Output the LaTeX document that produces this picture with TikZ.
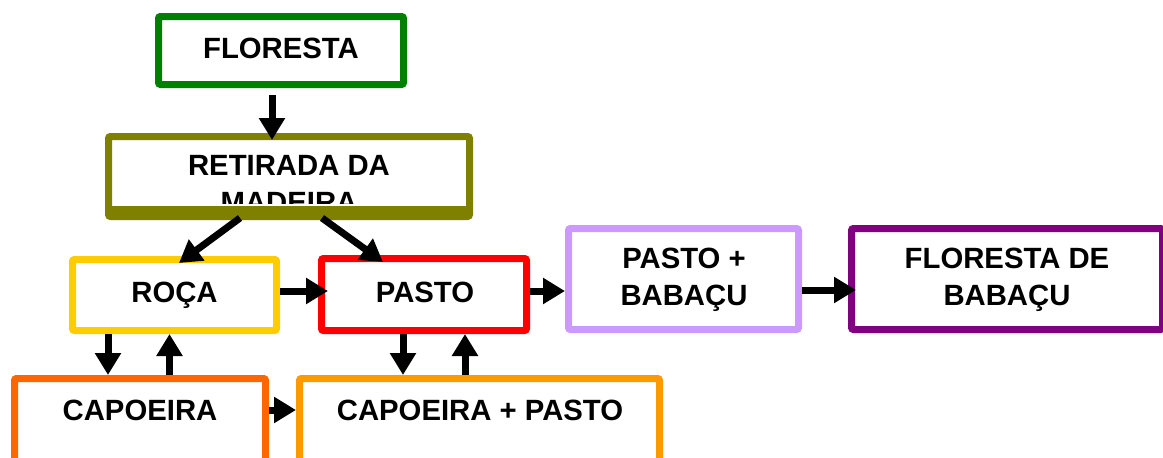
\documentclass[tikz,border=0pt]{standalone}
\usepackage{fontspec}
\setmainfont{Liberation Sans}
\usetikzlibrary{arrows.meta}
\definecolor{cgreen}{HTML}{008000}
\definecolor{colive}{HTML}{808000}
\definecolor{cyellow}{HTML}{FFCC00}
\definecolor{cred}{HTML}{FF0000}
\definecolor{clilac}{HTML}{CC99FF}
\definecolor{cpurple}{HTML}{800080}
\definecolor{corange}{HTML}{FF6600}
\definecolor{camber}{HTML}{FF9900}
\begin{document}
\begin{tikzpicture}[x=1pt,y=-1pt,
  box/.style={draw=#1, fill=none, line width=7pt, rounded corners=2pt, inner sep=0pt, outer sep=3.5pt},
  lbl/.style={font=\fontsize{29.3}{36}\selectfont\bfseries, anchor=base, inner sep=0pt, outer sep=0pt},
  arr/.style={line width=7pt, -{Triangle[width=25pt,length=22pt]}}]
\useasboundingbox (0,0) rectangle (1163,458);
% texts
\node[lbl] (t1) at (281,58) {FLORESTA};
\node[lbl] (t2) at (289,175) {RETIRADA DA};
\begin{scope}
\clip (112,140) rectangle (466,203);
\node[lbl] (t3) at (289,212) {MADEIRA};
\end{scope}
\node[lbl] (t4) at (174.5,302) {ROÇA};
\node[lbl] (t5) at (425,302) {PASTO};
\node[lbl] (t6) at (684,268) {PASTO +};
\node[lbl] (t7) at (684,305) {BABAÇU};
\node[lbl] (t8) at (1007,268) {FLORESTA DE};
\node[lbl] (t9) at (1007,305) {BABAÇU};
\node[lbl] (t10) at (140,420) {CAPOEIRA};
\node[lbl] (t11) at (480,420) {CAPOEIRA + PASTO};
% boxes
\node[box=cgreen, minimum width=245pt, minimum height=68pt] (flor) at (281,50.5) {};
\node[box=colive, minimum width=361pt, minimum height=80pt] (ret) at (289,176.5) {};
\fill[colive] (108.5,205.5) rectangle (469.5,213);
\node[box=cyellow, minimum width=204pt, minimum height=71pt] (roca) at (174.5,295) {};
\node[box=cred, minimum width=205pt, minimum height=72pt] (pasto) at (424,294.5) {};
\node[box=clilac, minimum width=230pt, minimum height=101pt] (pb) at (683.5,279) {};
\node[box=cpurple, minimum width=311pt, minimum height=101pt] (fb) at (1007,279) {};
\node[box=corange, minimum width=251pt, minimum height=98pt] (cap) at (140,427.5) {};
\node[box=camber, minimum width=360pt, minimum height=98pt] (cp) at (479.5,427.5) {};
% arrows
\draw[arr] ([xshift=-9pt,yshift=-7pt]flor.south) -- ([xshift=-17pt,yshift=-7pt]ret.north);
\draw[arr] ([xshift=-49pt,yshift=2pt]ret.south) -- ([xshift=4.5pt,yshift=-7pt]roca.north);
\draw[arr] ([xshift=33pt,yshift=2pt]ret.south) -- ([xshift=-41pt,yshift=-7pt]pasto.north);
\draw[arr] ([yshift=4pt]roca.east) -- ([xshift=10pt,yshift=3.5pt]pasto.west);
\draw[arr] ([yshift=3.5pt]pasto.east) -- ([yshift=-12pt]pb.west);
\draw[arr] ([yshift=-11pt]pb.east) -- ([xshift=8pt,yshift=-11pt]fb.west);
\draw[arr] ([xshift=-66.5pt]roca.south) -- ([xshift=-32pt]cap.north);
\draw[arr] ([xshift=29.5pt]cap.north) -- ([xshift=-5pt]roca.south);
\draw[arr] ([xshift=-21pt]pasto.south) -- ([xshift=-76.5pt]cp.north);
\draw[arr] ([xshift=-14.5pt]cp.north) -- ([xshift=41pt]pasto.south);
\draw[arr] ([yshift=17.5pt]cap.east) -- ([yshift=17.5pt]cp.west);
\end{tikzpicture}
\end{document}
